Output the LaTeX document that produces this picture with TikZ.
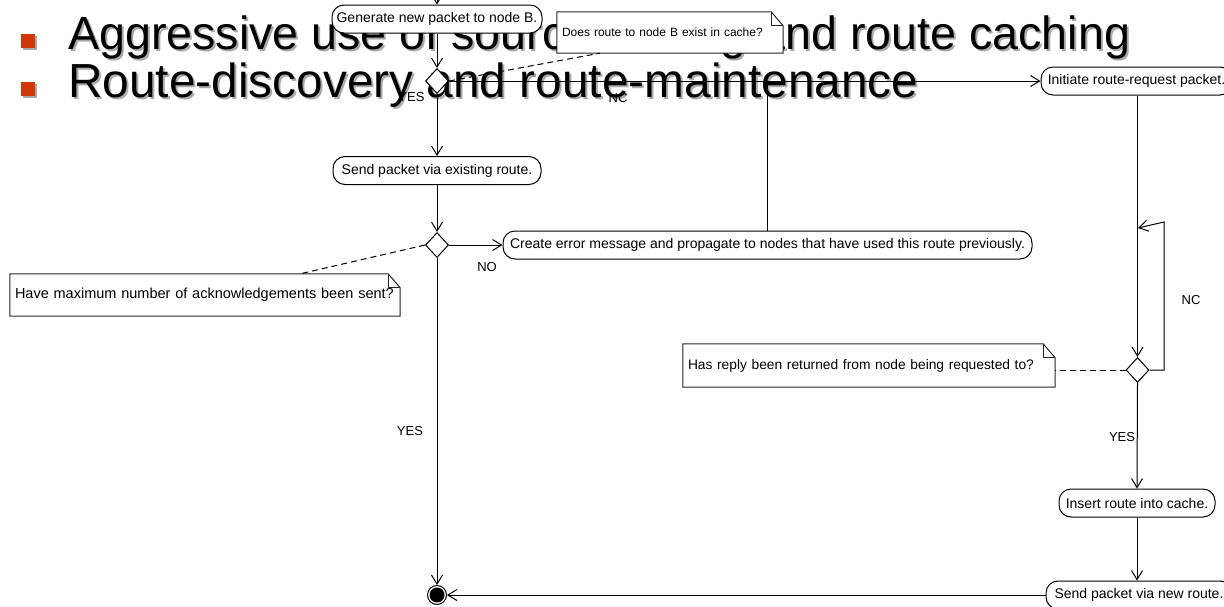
\documentclass[tikz,border=0pt]{standalone}
\usepackage{fontspec}
\setmainfont{Liberation Sans}
\usetikzlibrary{arrows.meta,calc,shapes.geometric}
\definecolor{bulletred}{RGB}{208,56,8}
\definecolor{shadowgray}{RGB}{170,170,170}
\begin{document}
\begin{tikzpicture}[x=1pt,y=-1pt,
  every node/.style={font=\fontsize{14}{16}\selectfont},
  act/.style={draw, fill=white, rounded corners=12pt, minimum height=28pt, inner xsep=3pt, inner ysep=0pt, line width=1pt},
  dec/.style={draw, fill=white, diamond, minimum width=23pt, minimum height=25pt, inner sep=0pt, line width=1pt},
  notebox/.style={fill=white, draw=none, align=left, inner xsep=5pt, inner ysep=0pt},
  noteline/.style={line width=1pt, draw=black!85},
  flow/.style={line width=1pt, -{Straight Barb[length=9pt,width=11pt,line width=1pt]}},
  link/.style={line width=1pt},
  notelink/.style={line width=1pt, dash pattern=on 6pt off 4pt},
  lbl/.style={font=\fontsize{13}{15}\selectfont, inner sep=0pt},
  bigA/.style={font=\fontsize{46.6}{56}\selectfont, anchor=base west, inner sep=0pt},
  bigB/.style={font=\fontsize{47.8}{56}\selectfont, anchor=base west, inner sep=0pt},
  bullet/.style={fill=bulletred, draw=none, minimum size=14pt, inner sep=0pt},
]
\useasboundingbox (0,0) rectangle (1224,606);
\fill[white] (0,0) rectangle (1224,606);

% slide text with shadow
\node[bigA, text=shadowgray] (t1s) at (70,51) {Aggressive use of source routing and route caching};
\node[bigB, text=shadowgray] (t2s) at (70,99) {Route-discovery and route-maintenance};
\fill[shadowgray] (23,36) rectangle (37,50);
\fill[shadowgray] (23,84) rectangle (37,98);
\node[bullet] (b1) at (28,41) {};
\node[bullet] (b2) at (28,89) {};
\node[lbl] (lnotop) at (618,98) {NC};
\node[bigA] (t1) at (68,49) {Aggressive use of source routing and route caching};
\node[bigB] (t2) at (68,97) {Route-discovery and route-maintenance};

% nodes
\coordinate (start) at (437,-2);
\node[act, minimum width=210pt] (gen) at (437,19) {Generate new packet to node B.};
\node[dec] (d1) at (437,81) {};
\node[act, minimum width=208pt] (send1) at (437,170.5) {Send packet via existing route.};
\node[dec] (d2) at (437,245) {};
\node[act, minimum width=529pt] (create) at (767.5,245) {Create error message and propagate to nodes that have used this route previously.};
\node[act, minimum width=191pt] (init) at (1136.5,81) {Initiate route-request packet.};
\node[dec] (d3) at (1137.5,370) {};
\node[act, minimum width=156pt] (insert) at (1137,503) {Insert route into cache.};
\node[act, minimum width=186pt] (send2) at (1139,595) {Send packet via new route.};
\node[circle, draw, fill=white, line width=1pt, minimum size=19pt, inner sep=0pt] (final) at (437,595) {};
\fill (final.center) circle (7.5pt);

% notes
\node[notebox, minimum width=226pt, minimum height=41pt, text width=216pt, font=\fontsize{12}{15}\selectfont] (nroute) at (670,32.5) {Does route to node B exist in cache?};
\node[notebox, minimum width=390pt, minimum height=42pt, text width=380pt, font=\fontsize{14.5}{17}\selectfont] (nack) at (205,295) {Have maximum number of acknowledgements been sent?};
\node[notebox, minimum width=372pt, minimum height=43pt, text width=362pt, font=\fontsize{13.8}{17}\selectfont] (nreply) at (869,365.5) {Has reply been returned from node being requested to?};
\foreach \n in {nroute,nack,nreply}{
  \draw[noteline] (\n.north west) -- ([xshift=-12pt]\n.north east) -- ([yshift=-14pt]\n.north east) -- (\n.south east) -- (\n.south west) -- cycle;
  \draw[noteline] ([xshift=-12pt]\n.north east) -- ([xshift=-12pt,yshift=-14pt]\n.north east) -- ([yshift=-14pt]\n.north east);
}

% connectors
\draw[flow] (start) -- (gen);
\draw[flow] (gen) -- (d1);
\draw[flow] (d1.east) -- (init.west);
\draw[flow] (d1) -- node[lbl, pos=0.05, left=12pt] {YES} (send1);
\draw[flow] (send1) -- (d2);
\draw[flow] (d2) -- (create);
\node[lbl] (lno) at (487,267) {NO};
\draw[link] (create.north) -- (create.north |- d1.east);
\draw[flow] (d2.south) -- (final.north);
\node[lbl] (lyes2) at (410,431) {YES};
\draw[flow] (d3.north |- init.south) -- (d3.north);
\coordinate (loopc) at (1164,222);
\coordinate (looptip) at (1138,228);
\draw[flow] (d3.east) -| (loopc) -- (looptip);
\node[lbl] (lnc) at (1191,300) {NC};
\draw[flow] (d3.south) -- (insert.north);
\node[lbl] (lyes3) at (1122,437) {YES};
\draw[flow] (insert.south) -- (send2.north -| insert.south);
\draw[flow] (send2.west) -- (final.east);
\draw[notelink] (d1.east) -- ($(nroute.south west)+(43,0)$);
\draw[notelink] (d2.west) -- ($(nack.north east)+(-100,0)$);
\draw[notelink] (d3.west) -- (d3.west -| nreply.east);
\end{tikzpicture}
\end{document}
